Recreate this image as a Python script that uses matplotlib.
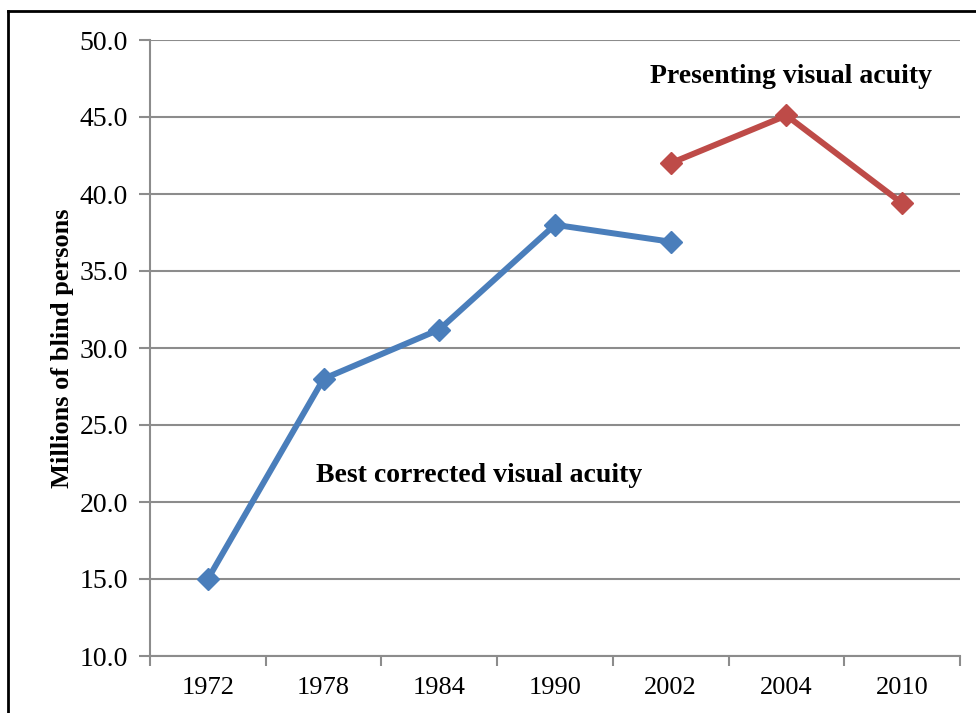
import matplotlib
matplotlib.use("Agg")
import matplotlib.pyplot as plt
from matplotlib.lines import Line2D

plt.rcParams['font.family'] = ['Liberation Serif', 'DejaVu Serif']

years = ["1972", "1978", "1984", "1990", "2002", "2004", "2010"]
best_corrected = [15.0, 28.0, 31.2, 38.0, 36.9]
presenting = [42.0, 45.1, 39.4]
best_idx = [0, 1, 2, 3, 4]
pres_idx = [4, 5, 6]

W, H = 976, 713
fig = plt.figure(figsize=(W / 100, H / 100), dpi=100)
ax = fig.add_axes([150 / W, 1 - 656 / H, 810 / W, 616 / H])

blue = "#4a7ebb"
red = "#be4b48"
grid_c = "#8c8c8c"

ax.plot(best_idx, best_corrected, color=blue, lw=4.3, marker="D", ms=11,
        markeredgecolor=blue, solid_capstyle="round", zorder=3)
ax.plot(pres_idx, presenting, color=red, lw=4.3, marker="D", ms=11,
        markeredgecolor=red, solid_capstyle="round", zorder=3)

ax.set_xlim(-0.5, len(years) - 0.5)
ax.set_ylim(10, 50)
ax.set_yticks([10, 15, 20, 25, 30, 35, 40, 45, 50])
ax.set_yticklabels([f"{v:.1f}" for v in [10, 15, 20, 25, 30, 35, 40, 45, 50]])
ax.set_xticks(range(len(years)))
ax.set_xticklabels(years)
ax.set_xticks([i - 0.5 for i in range(len(years) + 1)], minor=True)
ax.tick_params(axis="x", which="major", length=0, pad=15, labelsize=19)
ax.tick_params(axis="x", which="minor", length=7, width=1.5, color=grid_c, direction="out")
ax.tick_params(axis="y", length=8, width=1.5, color=grid_c, direction="out", pad=8, labelsize=20)

ax.grid(axis="y", color=grid_c, lw=1.5)
ax.set_axisbelow(True)
for s in ["top", "right"]:
    ax.spines[s].set_visible(False)
for s in ["left", "bottom"]:
    ax.spines[s].set_color(grid_c)
    ax.spines[s].set_linewidth(1.5)

ax.set_ylabel("Millions of blind persons", fontsize=19, fontweight="bold", labelpad=4)

ax.text(0.935, 21.75, "Best corrected visual acuity", fontsize=20, fontweight="bold",
        ha="left", va="center")
ax.text(3.82, 47.6, "Presenting visual acuity", fontsize=20, fontweight="bold",
        ha="left", va="center")

# outer frame (partially cropped)
fig.add_artist(Line2D([8 / W, 8 / W], [0, 1 - 11 / H], color="black", lw=2))
fig.add_artist(Line2D([8 / W, 1], [1 - 11 / H, 1 - 11 / H], color="black", lw=2))

fig.savefig("out.png", dpi=100, facecolor="white")
